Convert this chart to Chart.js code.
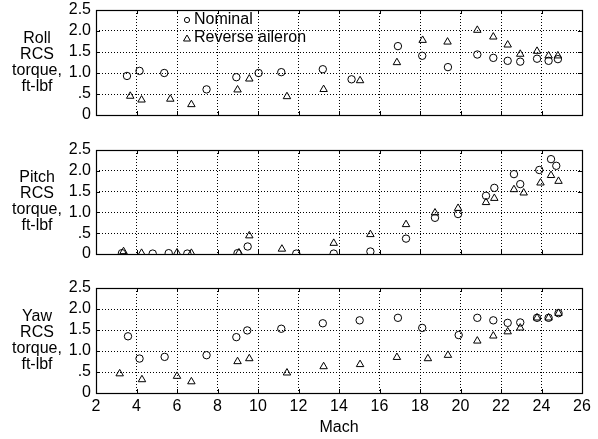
<!DOCTYPE html>
<html>
<head>
<meta charset="utf-8">
<script src="https://cdn.jsdelivr.net/npm/chart.js@4"></script>
<style>
  body { margin: 0; background: #fff; }
  .panel { position: absolute; left: 0; top: 0; width: 598px; height: 439px; }
</style>
</head>
<body>
<div class="panel"><canvas id="roll"></canvas></div>
<div class="panel"><canvas id="pitch"></canvas></div>
<div class="panel"><canvas id="yaw"></canvas></div>
<script>
// values (Mach, torque ft-lbf)
const rollNomMach = [3.53, 4.15, 5.37, 7.46, 8.93, 10.03, 11.15, 13.2, 14.62, 16.91, 18.11, 19.38, 20.83, 21.62, 22.33, 22.95, 23.78, 24.35, 24.81];
const rollNom = [0.93, 1.05, 1.0, 0.61, 0.9, 1.0, 1.02, 1.09, 0.85, 1.64, 1.41, 1.14, 1.44, 1.36, 1.29, 1.27, 1.34, 1.29, 1.33];
const rollRevMach = [3.69, 4.25, 5.67, 6.71, 8.99, 9.57, 11.43, 13.24, 15.04, 16.86, 18.13, 19.36, 20.83, 21.62, 22.33, 22.95, 23.78, 24.35, 24.81];
const rollRev = [0.45, 0.36, 0.38, 0.25, 0.6, 0.86, 0.44, 0.61, 0.82, 1.25, 1.78, 1.74, 2.02, 1.86, 1.67, 1.45, 1.52, 1.41, 1.41];

const pitchNomMach = [3.28, 4.8, 5.59, 6.51, 8.99, 9.49, 11.89, 13.74, 15.55, 17.31, 18.74, 19.88, 21.26, 21.67, 22.64, 22.95, 23.89, 24.47, 24.73];
const pitchNom = [0.02, 0.01, 0.02, 0.01, 0.02, 0.18, 0.01, 0.01, 0.06, 0.37, 0.87, 0.96, 1.4, 1.59, 1.92, 1.68, 2.02, 2.28, 2.12];
const pitchRevMach = [3.36, 4.25, 6.0, 6.71, 9.06, 9.57, 11.18, 13.74, 15.55, 17.31, 18.74, 19.88, 21.26, 21.67, 22.64, 23.12, 23.95, 24.47, 24.84];
const pitchRev = [0.06, 0.02, 0.03, 0.02, 0.03, 0.44, 0.12, 0.26, 0.47, 0.71, 0.99, 1.1, 1.24, 1.34, 1.55, 1.47, 1.71, 1.89, 1.75];

const yawNomMach = [3.58, 4.15, 5.39, 7.46, 8.93, 9.47, 11.15, 13.2, 15.02, 16.91, 18.11, 19.91, 20.83, 21.62, 22.33, 22.95, 23.78, 24.35, 24.84];
const yawNom = [1.35, 0.82, 0.86, 0.9, 1.33, 1.49, 1.53, 1.66, 1.73, 1.79, 1.55, 1.38, 1.79, 1.73, 1.67, 1.68, 1.79, 1.79, 1.9];
const yawRevMach = [3.17, 4.27, 6.0, 6.71, 8.99, 9.57, 11.43, 13.24, 15.04, 16.86, 18.39, 19.38, 20.83, 21.62, 22.33, 22.95, 23.78, 24.35, 24.84];
const yawRev = [0.46, 0.32, 0.4, 0.27, 0.75, 0.82, 0.48, 0.63, 0.68, 0.85, 0.82, 0.9, 1.24, 1.36, 1.46, 1.55, 1.79, 1.79, 1.9];

const seriesNames = ["Nominal", "Reverse aileron"];
const yTickLabels = { 0: "0", 0.5: ".5", 1: "1.0", 1.5: "1.5", 2: "2.0", 2.5: "2.5" };

const FONT = "'Liberation Sans', Arial, Helvetica, sans-serif";

function pts(xs, ys) {
  return xs.map((x, i) => ({ x: x, y: ys[i] }));
}

// frame with small inward ticks, plus the multi-line y label
const framePlugin = {
  id: "frame",
  afterDatasetsDraw(chart, args, opts) {
    const { ctx, chartArea: a, scales } = chart;
    ctx.save();
    ctx.strokeStyle = "#000";
    ctx.lineWidth = 1.2;
    ctx.setLineDash([]);
    ctx.strokeRect(Math.round(a.left) + 0.5, Math.round(a.top) + 0.5,
      Math.round(a.right - a.left), Math.round(a.bottom - a.top));
    ctx.lineWidth = 1;
    ctx.beginPath();
    scales.x.ticks.forEach((t) => {
      const px = Math.round(scales.x.getPixelForValue(t.value)) + 0.5;
      ctx.moveTo(px, a.bottom); ctx.lineTo(px, a.bottom - 4);
      ctx.moveTo(px, a.top); ctx.lineTo(px, a.top + 4);
    });
    scales.y.ticks.forEach((t) => {
      const py = Math.round(scales.y.getPixelForValue(t.value)) + 0.5;
      ctx.moveTo(a.left, py); ctx.lineTo(a.left + 4, py);
      ctx.moveTo(a.right, py); ctx.lineTo(a.right - 4, py);
    });
    ctx.stroke();

    ctx.fillStyle = "#000";
    ctx.font = "16px " + FONT;
    ctx.textAlign = "center";
    ctx.textBaseline = "middle";
    const lines = opts.label;
    const mid = (a.top + a.bottom) / 2;
    const step = 16;
    lines.forEach((s, i) => {
      ctx.fillText(s, 37, mid + (i - (lines.length - 1) / 2) * step);
    });

    if (opts.legend) {
      ctx.textAlign = "left";
      ctx.lineWidth = 1;
      ctx.strokeStyle = "#000";
      ctx.beginPath();
      ctx.arc(187, 20, 2.6, 0, Math.PI * 2);
      ctx.stroke();
      ctx.beginPath();
      ctx.moveTo(187, 35); ctx.lineTo(190.5, 41); ctx.lineTo(183.5, 41); ctx.closePath();
      ctx.stroke();
      ctx.fillText(seriesNames[0], 194, 20);
      ctx.fillText(seriesNames[1], 194, 38);
    }
    ctx.restore();
  }
};

function makePanel(id, nomX, nomY, revX, revY, label, top, bottom, isLast, legend) {
  const xH = isLast ? 46 : 1;
  new Chart(document.getElementById(id), {
    type: "scatter",
    data: {
      datasets: [
        {
          label: seriesNames[0],
          data: pts(nomX, nomY),
          pointStyle: "circle",
          pointRadius: 3.7,
          pointHoverRadius: 3.7,
          borderColor: "#000",
          backgroundColor: "rgba(255,255,255,0)",
          borderWidth: 1,
        },
        {
          label: seriesNames[1],
          data: pts(revX, revY),
          pointStyle: "triangle",
          pointRadius: 4.3,
          pointHoverRadius: 4.3,
          borderColor: "#000",
          backgroundColor: "rgba(255,255,255,0)",
          borderWidth: 1,
        },
      ],
    },
    options: {
      responsive: true,
      maintainAspectRatio: false,
      animation: false,
      events: [],
      layout: {
        padding: { left: 0, right: 16, top: top, bottom: 439 - bottom - xH },
      },
      plugins: {
        legend: { display: false },
        tooltip: { enabled: false },
        frame: { label: label, legend: legend },
      },
      scales: {
        x: {
          type: "linear",
          min: 2,
          max: 26,
          afterFit(s) { s.height = xH; },
          ticks: {
            display: isLast,
            stepSize: 2,
            padding: 4,
            autoSkip: false,
            maxRotation: 0,
            color: "#000",
            font: { size: 16, family: FONT },
          },
          grid: { color: "#000", lineWidth: 1, drawTicks: false },
          border: { display: false, dash: [1, 2] },
          title: {
            display: isLast,
            text: "Mach",
            color: "#000",
            font: { size: 16, family: FONT },
            padding: { top: 0, bottom: 2 },
          },
        },
        y: {
          min: 0,
          max: 2.5,
          afterFit(s) {
            s.width = 96;
            s.paddingTop = 0;
            s.paddingBottom = 0;
          },
          afterBuildTicks(s) {
            s.ticks = Object.keys(yTickLabels).map((v) => ({ value: Number(v) }));
          },
          ticks: {
            padding: 5,
            autoSkip: false,
            color: "#000",
            font: { size: 16, family: FONT },
            callback: (v) => yTickLabels[v],
          },
          grid: { color: "#000", lineWidth: 1, drawTicks: false },
          border: { display: false, dash: [1, 2] },
        },
      },
    },
    plugins: [framePlugin],
  });
}

makePanel("roll", rollNomMach, rollNom, rollRevMach, rollRev,
  ["Roll", "RCS", "torque,", "ft-lbf"], 10, 115, false, true);
makePanel("pitch", pitchNomMach, pitchNom, pitchRevMach, pitchRev,
  ["Pitch", "RCS", "torque,", "ft-lbf"], 150, 254, false, false);
makePanel("yaw", yawNomMach, yawNom, yawRevMach, yawRev,
  ["Yaw", "RCS", "torque,", "ft-lbf"], 288, 393, true, false);
</script>
</body>
</html>
